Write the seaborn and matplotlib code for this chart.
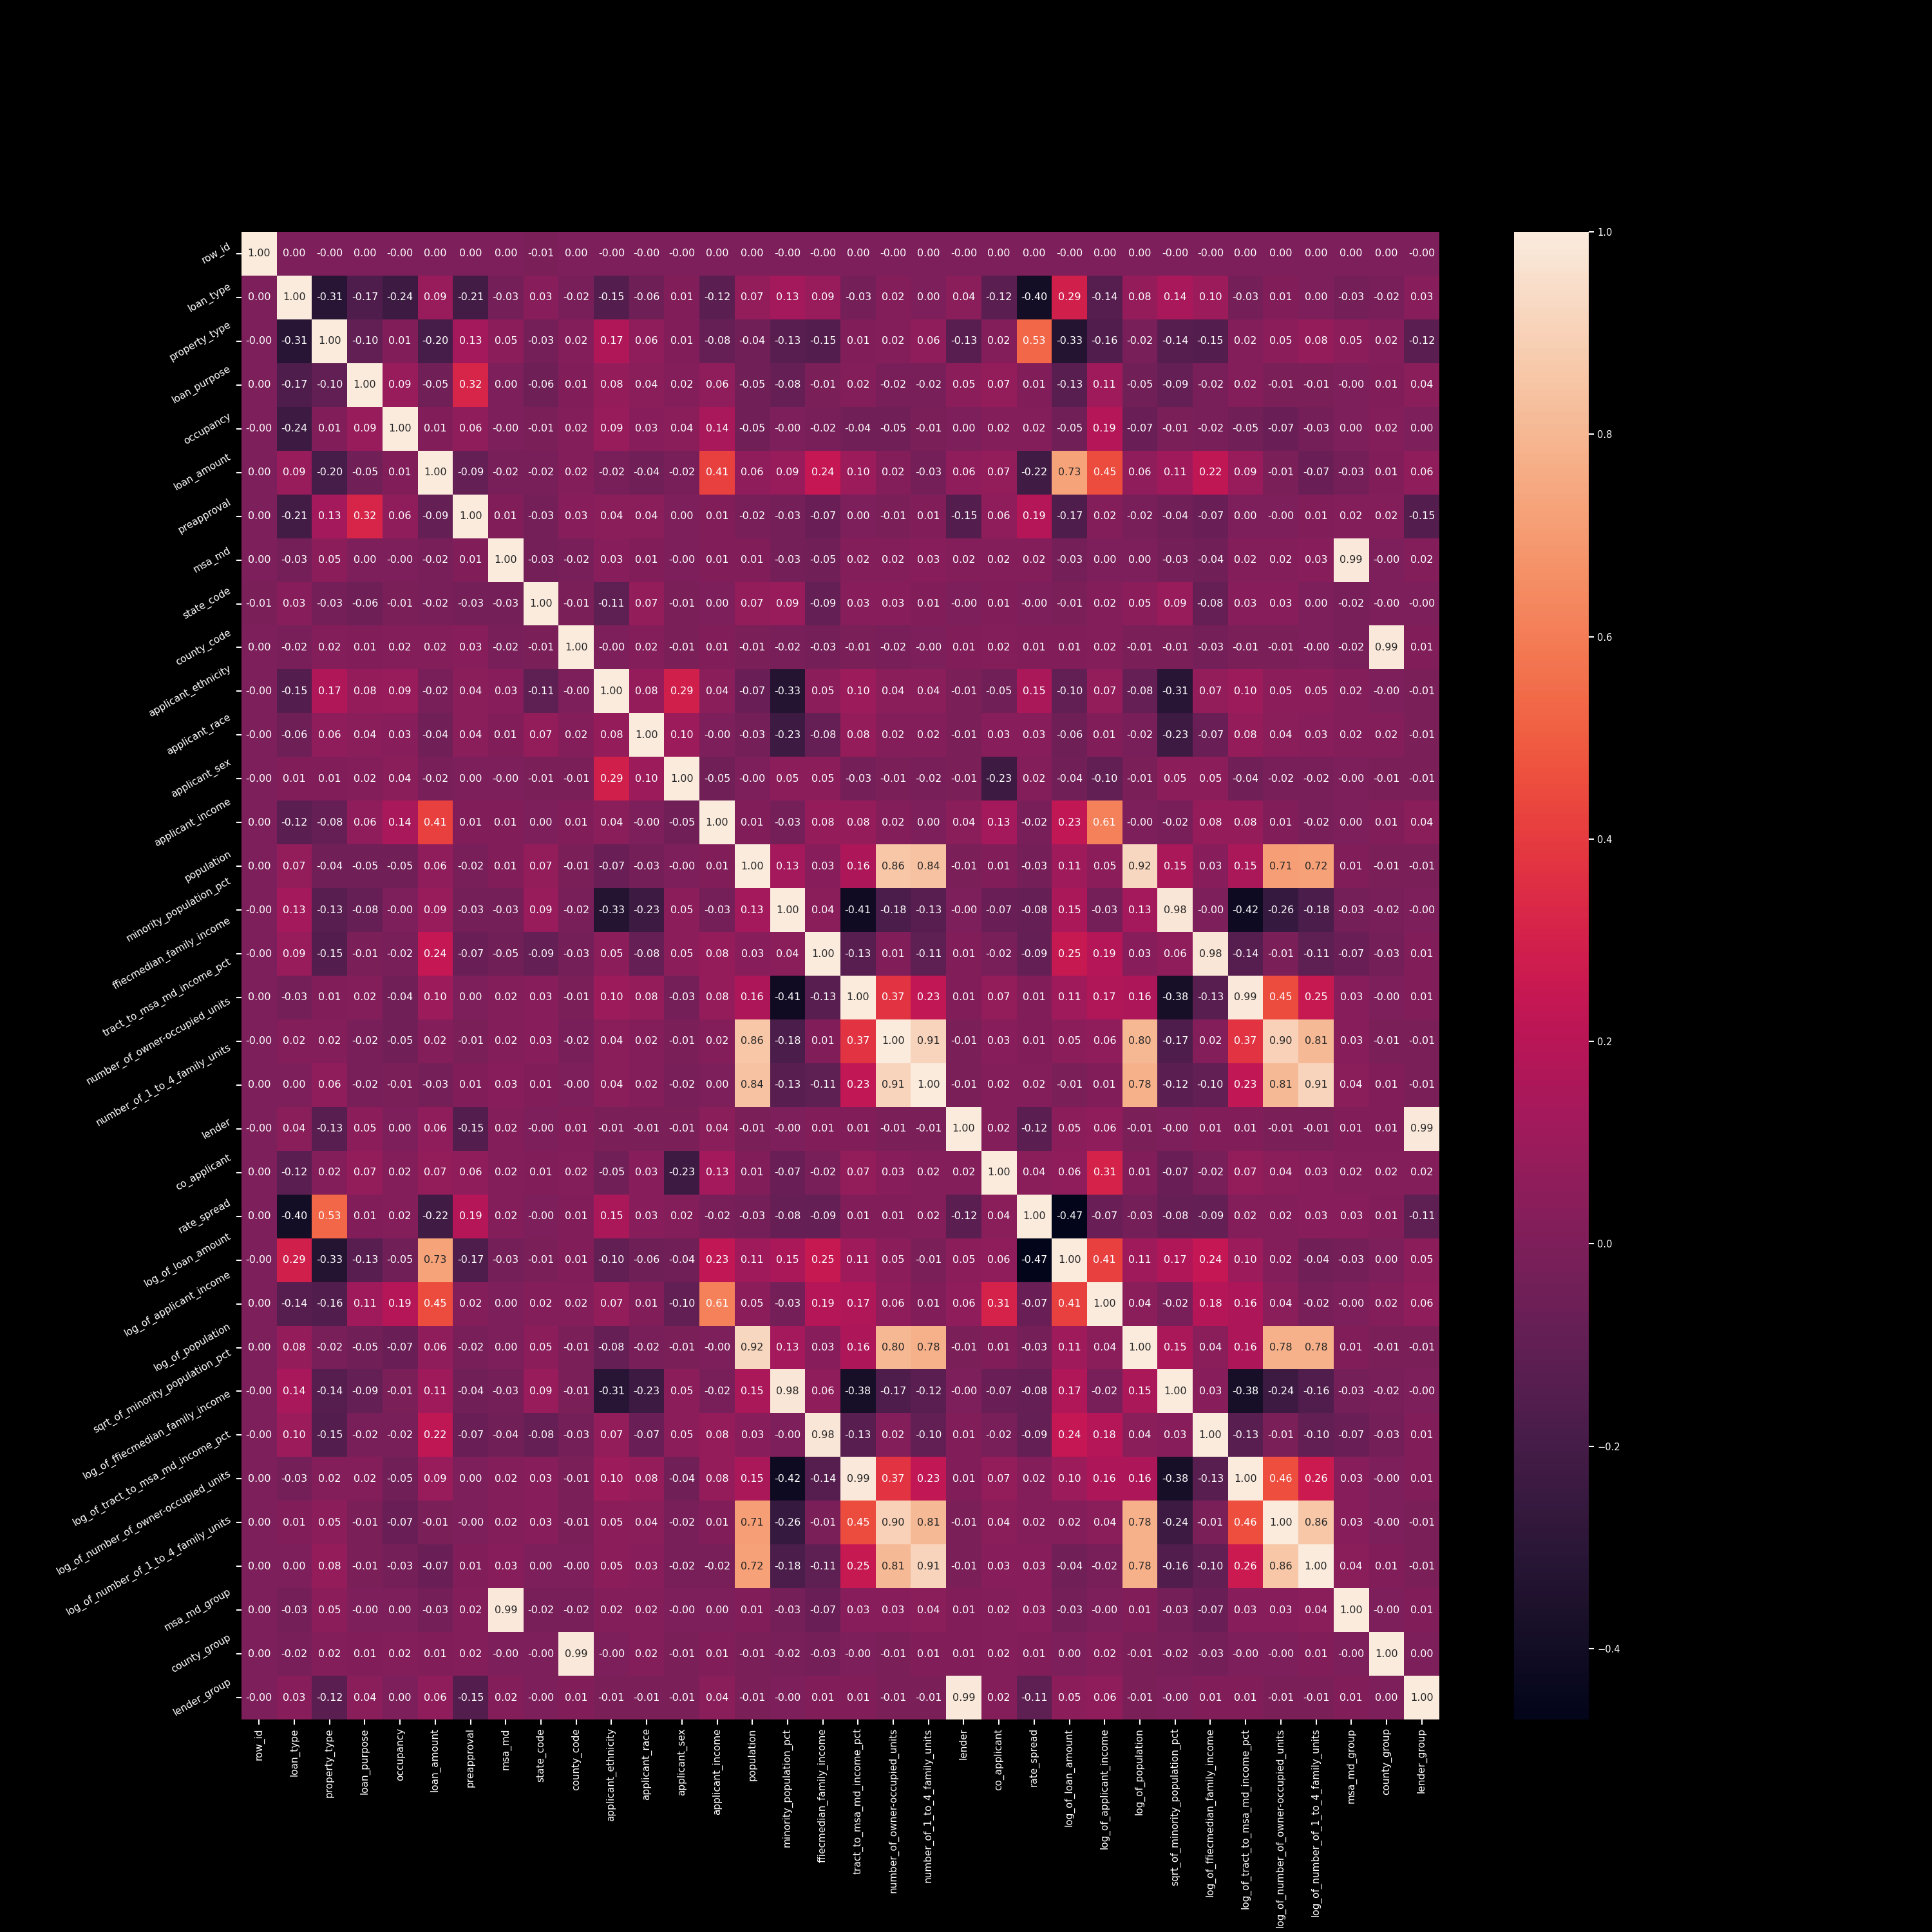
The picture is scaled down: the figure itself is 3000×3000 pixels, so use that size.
import numpy as np
import pandas as pd
import matplotlib
matplotlib.use("Agg")
import matplotlib.pyplot as plt
import seaborn as sns

labels = ["row_id", "loan_type", "property_type", "loan_purpose", "occupancy", "loan_amount",
          "preapproval", "msa_md", "state_code", "county_code", "applicant_ethnicity", "applicant_race",
          "applicant_sex", "applicant_income", "population", "minority_population_pct",
          "ffiecmedian_family_income", "tract_to_msa_md_income_pct", "number_of_owner-occupied_units",
          "number_of_1_to_4_family_units", "lender", "co_applicant", "rate_spread", "log_of_loan_amount",
          "log_of_applicant_income", "log_of_population", "sqrt_of_minority_population_pct",
          "log_of_ffiecmedian_family_income", "log_of_tract_to_msa_md_income_pct",
          "log_of_number_of_owner-occupied_units", "log_of_number_of_1_to_4_family_units",
          "msa_md_group", "county_group", "lender_group"]

row_id = [1.00, 0.00, -0.00, 0.00, -0.00, 0.00, 0.00, 0.00, -0.01, 0.00, -0.00, -0.00, -0.00, 0.00, 0.00, -0.00, -0.00, 0.00, -0.00, 0.00, -0.00, 0.00, 0.00, -0.00, 0.00, 0.00, -0.00, -0.00, 0.00, 0.00, 0.00, 0.00, 0.00, -0.00]
loan_type = [0.00, 1.00, -0.31, -0.17, -0.24, 0.09, -0.21, -0.03, 0.03, -0.02, -0.15, -0.06, 0.01, -0.12, 0.07, 0.13, 0.09, -0.03, 0.02, 0.00, 0.04, -0.12, -0.40, 0.29, -0.14, 0.08, 0.14, 0.10, -0.03, 0.01, 0.00, -0.03, -0.02, 0.03]
property_type = [-0.00, -0.31, 1.00, -0.10, 0.01, -0.20, 0.13, 0.05, -0.03, 0.02, 0.17, 0.06, 0.01, -0.08, -0.04, -0.13, -0.15, 0.01, 0.02, 0.06, -0.13, 0.02, 0.53, -0.33, -0.16, -0.02, -0.14, -0.15, 0.02, 0.05, 0.08, 0.05, 0.02, -0.12]
loan_purpose = [0.00, -0.17, -0.10, 1.00, 0.09, -0.05, 0.32, 0.00, -0.06, 0.01, 0.08, 0.04, 0.02, 0.06, -0.05, -0.08, -0.01, 0.02, -0.02, -0.02, 0.05, 0.07, 0.01, -0.13, 0.11, -0.05, -0.09, -0.02, 0.02, -0.01, -0.01, -0.00, 0.01, 0.04]
occupancy = [-0.00, -0.24, 0.01, 0.09, 1.00, 0.01, 0.06, -0.00, -0.01, 0.02, 0.09, 0.03, 0.04, 0.14, -0.05, -0.00, -0.02, -0.04, -0.05, -0.01, 0.00, 0.02, 0.02, -0.05, 0.19, -0.07, -0.01, -0.02, -0.05, -0.07, -0.03, 0.00, 0.02, 0.00]
loan_amount = [0.00, 0.09, -0.20, -0.05, 0.01, 1.00, -0.09, -0.02, -0.02, 0.02, -0.02, -0.04, -0.02, 0.41, 0.06, 0.09, 0.24, 0.10, 0.02, -0.03, 0.06, 0.07, -0.22, 0.73, 0.45, 0.06, 0.11, 0.22, 0.09, -0.01, -0.07, -0.03, 0.01, 0.06]
preapproval = [0.00, -0.21, 0.13, 0.32, 0.06, -0.09, 1.00, 0.01, -0.03, 0.03, 0.04, 0.04, 0.00, 0.01, -0.02, -0.03, -0.07, 0.00, -0.01, 0.01, -0.15, 0.06, 0.19, -0.17, 0.02, -0.02, -0.04, -0.07, 0.00, -0.00, 0.01, 0.02, 0.02, -0.15]
msa_md = [0.00, -0.03, 0.05, 0.00, -0.00, -0.02, 0.01, 1.00, -0.03, -0.02, 0.03, 0.01, -0.00, 0.01, 0.01, -0.03, -0.05, 0.02, 0.02, 0.03, 0.02, 0.02, 0.02, -0.03, 0.00, 0.00, -0.03, -0.04, 0.02, 0.02, 0.03, 0.99, -0.00, 0.02]
state_code = [-0.01, 0.03, -0.03, -0.06, -0.01, -0.02, -0.03, -0.03, 1.00, -0.01, -0.11, 0.07, -0.01, 0.00, 0.07, 0.09, -0.09, 0.03, 0.03, 0.01, -0.00, 0.01, -0.00, -0.01, 0.02, 0.05, 0.09, -0.08, 0.03, 0.03, 0.00, -0.02, -0.00, -0.00]
county_code = [0.00, -0.02, 0.02, 0.01, 0.02, 0.02, 0.03, -0.02, -0.01, 1.00, -0.00, 0.02, -0.01, 0.01, -0.01, -0.02, -0.03, -0.01, -0.02, -0.00, 0.01, 0.02, 0.01, 0.01, 0.02, -0.01, -0.01, -0.03, -0.01, -0.01, -0.00, -0.02, 0.99, 0.01]
applicant_ethnicity = [-0.00, -0.15, 0.17, 0.08, 0.09, -0.02, 0.04, 0.03, -0.11, -0.00, 1.00, 0.08, 0.29, 0.04, -0.07, -0.33, 0.05, 0.10, 0.04, 0.04, -0.01, -0.05, 0.15, -0.10, 0.07, -0.08, -0.31, 0.07, 0.10, 0.05, 0.05, 0.02, -0.00, -0.01]
applicant_race = [-0.00, -0.06, 0.06, 0.04, 0.03, -0.04, 0.04, 0.01, 0.07, 0.02, 0.08, 1.00, 0.10, -0.00, -0.03, -0.23, -0.08, 0.08, 0.02, 0.02, -0.01, 0.03, 0.03, -0.06, 0.01, -0.02, -0.23, -0.07, 0.08, 0.04, 0.03, 0.02, 0.02, -0.01]
applicant_sex = [-0.00, 0.01, 0.01, 0.02, 0.04, -0.02, 0.00, -0.00, -0.01, -0.01, 0.29, 0.10, 1.00, -0.05, -0.00, 0.05, 0.05, -0.03, -0.01, -0.02, -0.01, -0.23, 0.02, -0.04, -0.10, -0.01, 0.05, 0.05, -0.04, -0.02, -0.02, -0.00, -0.01, -0.01]
applicant_income = [0.00, -0.12, -0.08, 0.06, 0.14, 0.41, 0.01, 0.01, 0.00, 0.01, 0.04, -0.00, -0.05, 1.00, 0.01, -0.03, 0.08, 0.08, 0.02, 0.00, 0.04, 0.13, -0.02, 0.23, 0.61, -0.00, -0.02, 0.08, 0.08, 0.01, -0.02, 0.00, 0.01, 0.04]
population = [0.00, 0.07, -0.04, -0.05, -0.05, 0.06, -0.02, 0.01, 0.07, -0.01, -0.07, -0.03, -0.00, 0.01, 1.00, 0.13, 0.03, 0.16, 0.86, 0.84, -0.01, 0.01, -0.03, 0.11, 0.05, 0.92, 0.15, 0.03, 0.15, 0.71, 0.72, 0.01, -0.01, -0.01]
minority_population_pct = [-0.00, 0.13, -0.13, -0.08, -0.00, 0.09, -0.03, -0.03, 0.09, -0.02, -0.33, -0.23, 0.05, -0.03, 0.13, 1.00, 0.04, -0.41, -0.18, -0.13, -0.00, -0.07, -0.08, 0.15, -0.03, 0.13, 0.98, -0.00, -0.42, -0.26, -0.18, -0.03, -0.02, -0.00]
ffiecmedian_family_income = [-0.00, 0.09, -0.15, -0.01, -0.02, 0.24, -0.07, -0.05, -0.09, -0.03, 0.05, -0.08, 0.05, 0.08, 0.03, 0.04, 1.00, -0.13, 0.01, -0.11, 0.01, -0.02, -0.09, 0.25, 0.19, 0.03, 0.06, 0.98, -0.14, -0.01, -0.11, -0.07, -0.03, 0.01]
tract_to_msa_md_income_pct = [0.00, -0.03, 0.01, 0.02, -0.04, 0.10, 0.00, 0.02, 0.03, -0.01, 0.10, 0.08, -0.03, 0.08, 0.16, -0.41, -0.13, 1.00, 0.37, 0.23, 0.01, 0.07, 0.01, 0.11, 0.17, 0.16, -0.38, -0.13, 0.99, 0.45, 0.25, 0.03, -0.00, 0.01]
number_of_owner_occupied_units = [-0.00, 0.02, 0.02, -0.02, -0.05, 0.02, -0.01, 0.02, 0.03, -0.02, 0.04, 0.02, -0.01, 0.02, 0.86, -0.18, 0.01, 0.37, 1.00, 0.91, -0.01, 0.03, 0.01, 0.05, 0.06, 0.80, -0.17, 0.02, 0.37, 0.90, 0.81, 0.03, -0.01, -0.01]
number_of_1_to_4_family_units = [0.00, 0.00, 0.06, -0.02, -0.01, -0.03, 0.01, 0.03, 0.01, -0.00, 0.04, 0.02, -0.02, 0.00, 0.84, -0.13, -0.11, 0.23, 0.91, 1.00, -0.01, 0.02, 0.02, -0.01, 0.01, 0.78, -0.12, -0.10, 0.23, 0.81, 0.91, 0.04, 0.01, -0.01]
lender = [-0.00, 0.04, -0.13, 0.05, 0.00, 0.06, -0.15, 0.02, -0.00, 0.01, -0.01, -0.01, -0.01, 0.04, -0.01, -0.00, 0.01, 0.01, -0.01, -0.01, 1.00, 0.02, -0.12, 0.05, 0.06, -0.01, -0.00, 0.01, 0.01, -0.01, -0.01, 0.01, 0.01, 0.99]
co_applicant = [0.00, -0.12, 0.02, 0.07, 0.02, 0.07, 0.06, 0.02, 0.01, 0.02, -0.05, 0.03, -0.23, 0.13, 0.01, -0.07, -0.02, 0.07, 0.03, 0.02, 0.02, 1.00, 0.04, 0.06, 0.31, 0.01, -0.07, -0.02, 0.07, 0.04, 0.03, 0.02, 0.02, 0.02]
rate_spread = [0.00, -0.40, 0.53, 0.01, 0.02, -0.22, 0.19, 0.02, -0.00, 0.01, 0.15, 0.03, 0.02, -0.02, -0.03, -0.08, -0.09, 0.01, 0.01, 0.02, -0.12, 0.04, 1.00, -0.47, -0.07, -0.03, -0.08, -0.09, 0.02, 0.02, 0.03, 0.03, 0.01, -0.11]
log_of_loan_amount = [-0.00, 0.29, -0.33, -0.13, -0.05, 0.73, -0.17, -0.03, -0.01, 0.01, -0.10, -0.06, -0.04, 0.23, 0.11, 0.15, 0.25, 0.11, 0.05, -0.01, 0.05, 0.06, -0.47, 1.00, 0.41, 0.11, 0.17, 0.24, 0.10, 0.02, -0.04, -0.03, 0.00, 0.05]
log_of_applicant_income = [0.00, -0.14, -0.16, 0.11, 0.19, 0.45, 0.02, 0.00, 0.02, 0.02, 0.07, 0.01, -0.10, 0.61, 0.05, -0.03, 0.19, 0.17, 0.06, 0.01, 0.06, 0.31, -0.07, 0.41, 1.00, 0.04, -0.02, 0.18, 0.16, 0.04, -0.02, -0.00, 0.02, 0.06]
log_of_population = [0.00, 0.08, -0.02, -0.05, -0.07, 0.06, -0.02, 0.00, 0.05, -0.01, -0.08, -0.02, -0.01, -0.00, 0.92, 0.13, 0.03, 0.16, 0.80, 0.78, -0.01, 0.01, -0.03, 0.11, 0.04, 1.00, 0.15, 0.04, 0.16, 0.78, 0.78, 0.01, -0.01, -0.01]
sqrt_of_minority_population_pct = [-0.00, 0.14, -0.14, -0.09, -0.01, 0.11, -0.04, -0.03, 0.09, -0.01, -0.31, -0.23, 0.05, -0.02, 0.15, 0.98, 0.06, -0.38, -0.17, -0.12, -0.00, -0.07, -0.08, 0.17, -0.02, 0.15, 1.00, 0.03, -0.38, -0.24, -0.16, -0.03, -0.02, -0.00]
log_of_ffiecmedian_family_income = [-0.00, 0.10, -0.15, -0.02, -0.02, 0.22, -0.07, -0.04, -0.08, -0.03, 0.07, -0.07, 0.05, 0.08, 0.03, -0.00, 0.98, -0.13, 0.02, -0.10, 0.01, -0.02, -0.09, 0.24, 0.18, 0.04, 0.03, 1.00, -0.13, -0.01, -0.10, -0.07, -0.03, 0.01]
log_of_tract_to_msa_md_income_pct = [0.00, -0.03, 0.02, 0.02, -0.05, 0.09, 0.00, 0.02, 0.03, -0.01, 0.10, 0.08, -0.04, 0.08, 0.15, -0.42, -0.14, 0.99, 0.37, 0.23, 0.01, 0.07, 0.02, 0.10, 0.16, 0.16, -0.38, -0.13, 1.00, 0.46, 0.26, 0.03, -0.00, 0.01]
log_of_number_of_owner_occupied_units = [0.00, 0.01, 0.05, -0.01, -0.07, -0.01, -0.00, 0.02, 0.03, -0.01, 0.05, 0.04, -0.02, 0.01, 0.71, -0.26, -0.01, 0.45, 0.90, 0.81, -0.01, 0.04, 0.02, 0.02, 0.04, 0.78, -0.24, -0.01, 0.46, 1.00, 0.86, 0.03, -0.00, -0.01]
log_of_number_of_1_to_4_family_units = [0.00, 0.00, 0.08, -0.01, -0.03, -0.07, 0.01, 0.03, 0.00, -0.00, 0.05, 0.03, -0.02, -0.02, 0.72, -0.18, -0.11, 0.25, 0.81, 0.91, -0.01, 0.03, 0.03, -0.04, -0.02, 0.78, -0.16, -0.10, 0.26, 0.86, 1.00, 0.04, 0.01, -0.01]
msa_md_group = [0.00, -0.03, 0.05, -0.00, 0.00, -0.03, 0.02, 0.99, -0.02, -0.02, 0.02, 0.02, -0.00, 0.00, 0.01, -0.03, -0.07, 0.03, 0.03, 0.04, 0.01, 0.02, 0.03, -0.03, -0.00, 0.01, -0.03, -0.07, 0.03, 0.03, 0.04, 1.00, -0.00, 0.01]
county_group = [0.00, -0.02, 0.02, 0.01, 0.02, 0.01, 0.02, -0.00, -0.00, 0.99, -0.00, 0.02, -0.01, 0.01, -0.01, -0.02, -0.03, -0.00, -0.01, 0.01, 0.01, 0.02, 0.01, 0.00, 0.02, -0.01, -0.02, -0.03, -0.00, -0.00, 0.01, -0.00, 1.00, 0.00]
lender_group = [-0.00, 0.03, -0.12, 0.04, 0.00, 0.06, -0.15, 0.02, -0.00, 0.01, -0.01, -0.01, -0.01, 0.04, -0.01, -0.00, 0.01, 0.01, -0.01, -0.01, 0.99, 0.02, -0.11, 0.05, 0.06, -0.01, -0.00, 0.01, 0.01, -0.01, -0.01, 0.01, 0.00, 1.00]

rows = [row_id, loan_type, property_type, loan_purpose, occupancy, loan_amount, preapproval, msa_md,
        state_code, county_code, applicant_ethnicity, applicant_race, applicant_sex, applicant_income,
        population, minority_population_pct, ffiecmedian_family_income, tract_to_msa_md_income_pct,
        number_of_owner_occupied_units, number_of_1_to_4_family_units, lender, co_applicant, rate_spread,
        log_of_loan_amount, log_of_applicant_income, log_of_population, sqrt_of_minority_population_pct,
        log_of_ffiecmedian_family_income, log_of_tract_to_msa_md_income_pct,
        log_of_number_of_owner_occupied_units, log_of_number_of_1_to_4_family_units,
        msa_md_group, county_group, lender_group]

corr = pd.DataFrame(rows, index=labels, columns=labels)

plt.style.use("dark_background")
plt.rcParams["font.family"] = ["DejaVu Sans"]

fig, ax = plt.subplots(figsize=(30, 30), dpi=100)
sns.heatmap(corr, annot=True, fmt=".2f", ax=ax, annot_kws={"fontsize": 11.5})
ax.tick_params(axis="x", labelsize=11, rotation=90, length=6, width=1.5)
ax.tick_params(axis="y", labelsize=11, rotation=30, length=6, width=1.5)
cbar = ax.collections[0].colorbar
cbar.ax.tick_params(labelsize=10.5, length=6, width=1.5)

fig.savefig("out.png", dpi=100, facecolor="black")
